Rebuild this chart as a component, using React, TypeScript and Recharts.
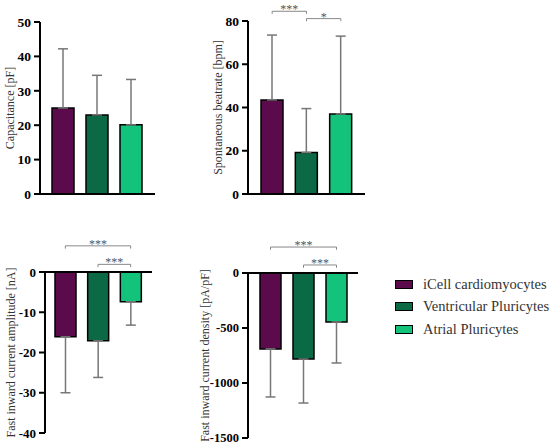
import { BarChart, Bar, XAxis, YAxis, Cell, ErrorBar, ReferenceLine } from 'recharts'

const categories = ['iCell cardiomyocytes', 'Ventricular Pluricytes', 'Atrial Pluricytes']
const colors = ['#5b0a4c', '#0b6a45', '#13c27b']

const capacitanceMean = [25, 23, 20.1]
const capacitanceSd = [17.2, 11.5, 13.2]
const capacitanceTicks = [0, 10, 20, 30, 40, 50]

const beatrateMean = [43.5, 19.2, 37]
const beatrateSd = [30, 20.3, 36]
const beatrateTicks = [0, 20, 40, 60, 80]

const amplitudeMean = [-16.1, -17.1, -7.4]
const amplitudeSd = [13.9, 9.1, 5.8]
const amplitudeTicks = [-40, -30, -20, -10, 0]

const densityMean = [-690, -782, -445]
const densitySd = [437, 400, 373]
const densityTicks = [-1500, -1000, -500, 0]

type Bracket = { from: number; to: number; y: number; drop: number; label: string }

const beatrateBrackets: Bracket[] = [
  { from: 0, to: 1, y: 84.5, drop: 1.2, label: '***' },
  { from: 1, to: 2, y: 81.1, drop: 1.2, label: '*' },
]
const amplitudeBrackets: Bracket[] = [
  { from: 0, to: 2, y: 6.5, drop: 0.7, label: '***' },
  { from: 1, to: 2, y: 1.9, drop: 0.7, label: '***' },
]
const densityBrackets: Bracket[] = [
  { from: 0, to: 2, y: 236, drop: 25, label: '***' },
  { from: 1, to: 2, y: 73, drop: 25, label: '***' },
]

const serif = '"Liberation Serif", "Times New Roman", serif'

type PanelProps = {
  left: number
  top: number
  width: number
  height: number
  margin: { top: number; right: number; bottom: number; left: number }
  yWidth: number
  domain: [number, number]
  ticks: number[]
  title: string
  titleOffset: number
  mean: number[]
  sd: number[]
  brackets?: Bracket[]
  fontSize: number
  pad: { left: number; right: number }
  barSize: number
}

function makeTick(fontSize: number) {
  return (props: any) => {
    const { x, y, payload } = props
    return (
      <text x={x - 1} y={y} dy="0.35em" textAnchor="end" fontFamily={serif} fontWeight={700} fontSize={fontSize} fill="#000">
        {payload.value}
      </text>
    )
  }
}

function Panel(p: PanelProps) {
  const negative = p.mean[0] < 0
  const rows = categories.map((c, i) => ({
    name: c,
    mean: p.mean[i],
    err: negative ? [p.sd[i], 0] : [0, p.sd[i]],
  }))
  const black = { stroke: '#000', strokeWidth: 2 }
  return (
    <div style={{ position: 'absolute', left: p.left, top: p.top }}>
      <BarChart width={p.width} height={p.height} data={rows} margin={p.margin} barCategoryGap={0}>
        <XAxis
          dataKey="name"
          hide={negative}
          tick={false}
          tickLine={false}
          axisLine={black}
          height={1}
          padding={p.pad}
        />
        <YAxis
          width={p.yWidth}
          domain={p.domain}
          ticks={p.ticks}
          interval={0}
          allowDataOverflow
          axisLine={black}
          tickLine={black}
          tickSize={6}
          tick={makeTick(p.fontSize)}
          label={{
            value: p.title,
            angle: -90,
            position: 'insideLeft',
            offset: p.titleOffset,
            style: { textAnchor: 'middle', fontFamily: serif, fontSize: 12, fill: '#333' },
          }}
        />
        {negative && <ReferenceLine y={0} stroke="#000" strokeWidth={2} />}
        <Bar dataKey="mean" barSize={p.barSize} stroke="#000" strokeWidth={1.5} isAnimationActive={false}>
          {rows.map((r, i) => (
            <Cell key={r.name} fill={colors[i]} />
          ))}
          <ErrorBar dataKey="err" direction="y" width={5} stroke="#777" strokeWidth={1.5} isAnimationActive={false} />
        </Bar>
        {(p.brackets || []).map((b, i) => (
          <ReferenceLine
            key={'b' + i}
            ifOverflow="visible"
            stroke="#888"
            strokeWidth={1}
            segment={[
              { x: categories[b.from], y: b.y },
              { x: categories[b.to], y: b.y },
            ]}
            label={{ value: b.label, position: 'top', offset: -2, fill: '#555', fontSize: 12, fontFamily: serif }}
          />
        ))}
        {(p.brackets || []).flatMap((b, i) =>
          [b.from, b.to].map((k) => (
            <ReferenceLine
              key={'t' + i + '-' + k}
              ifOverflow="visible"
              stroke="#888"
              strokeWidth={1}
              segment={[
                { x: categories[k], y: b.y },
                { x: categories[k], y: b.y - b.drop },
              ]}
            />
          ))
        )}
      </BarChart>
    </div>
  )
}

function Legend() {
  return (
    <div style={{ position: 'absolute', left: 395, top: 273, fontFamily: serif, fontSize: 14.5, color: '#333' }}>
      {categories.map((c, i) => (
        <div key={c} style={{ display: 'flex', alignItems: 'center', height: 22.5 }}>
          <span
            style={{
              width: 16,
              height: 7,
              background: colors[i],
              border: '1.5px solid #000',
              marginRight: 10,
              display: 'inline-block',
            }}
          />
          {c}
        </div>
      ))}
    </div>
  )
}

export default function App() {
  return (
    <div style={{ position: 'absolute', left: 0, top: 0, width: 550, height: 447, background: '#fff', overflow: 'hidden' }}>
      <Panel
        left={0}
        top={0}
        width={165}
        height={205}
        margin={{ top: 22, right: 10, bottom: 10, left: 0 }}
        yWidth={40}
        domain={[0, 50]}
        ticks={capacitanceTicks}
        title="Capacitance [pF]"
        titleOffset={10}
        mean={capacitanceMean}
        sd={capacitanceSd}
        fontSize={13.5}
        pad={{ left: 6, right: 7 }}
        barSize={22}
      />
      <Panel
        left={200}
        top={0}
        width={175}
        height={205}
        margin={{ top: 21, right: 10, bottom: 10, left: 0 }}
        yWidth={48}
        domain={[0, 80]}
        ticks={beatrateTicks}
        title="Spontaneous beatrate [bpm]"
        titleOffset={18}
        mean={beatrateMean}
        sd={beatrateSd}
        brackets={beatrateBrackets}
        fontSize={13.5}
        pad={{ left: 7, right: 7 }}
        barSize={22}
      />
      <Panel
        left={0}
        top={230}
        width={162}
        height={217}
        margin={{ top: 42, right: 10, bottom: 14, left: 0 }}
        yWidth={45}
        domain={[-40, 0]}
        ticks={amplitudeTicks}
        title="Fast inward current amplitude [nA]"
        titleOffset={11}
        mean={amplitudeMean}
        sd={amplitudeSd}
        brackets={amplitudeBrackets}
        fontSize={13}
        pad={{ left: 4, right: 5 }}
        barSize={21}
      />
      <Panel
        left={190}
        top={230}
        width={178}
        height={217}
        margin={{ top: 43, right: 10, bottom: 9, left: 0 }}
        yWidth={58}
        domain={[-1500, 0]}
        ticks={densityTicks}
        title="Fast inward current density [pA/pF]"
        titleOffset={15}
        mean={densityMean}
        sd={densitySd}
        brackets={densityBrackets}
        fontSize={12.5}
        pad={{ left: 6, right: 5 }}
        barSize={21}
      />
      <Legend />
    </div>
  )
}
